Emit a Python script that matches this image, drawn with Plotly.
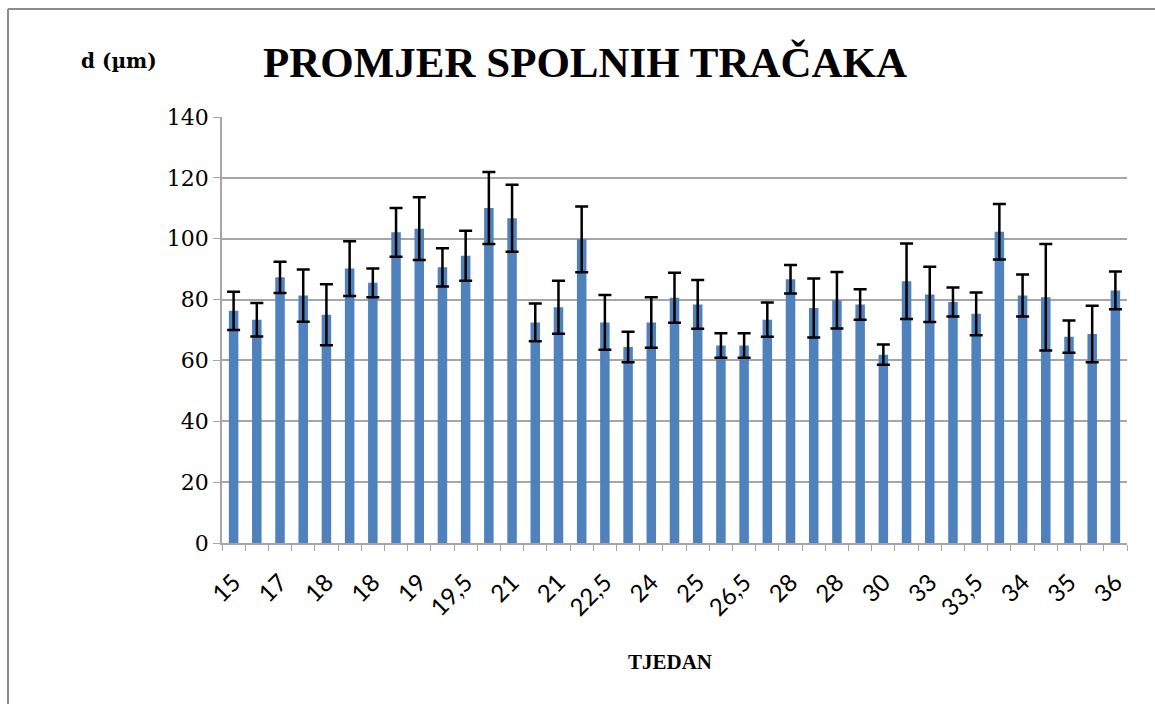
import plotly.graph_objects as go

# Mean diameter (µm) and standard deviation per sample, in sampling order
diameter = [76.3, 73.4, 87.3, 81.3, 75.0, 90.2, 85.5, 102.1, 103.3, 90.6,
            94.4, 110.1, 106.7, 72.5, 77.5, 99.8, 72.5, 64.4, 72.5, 80.6,
            78.4, 64.9, 64.9, 73.4, 86.7, 77.2, 79.8, 78.4, 61.9, 86.0,
            81.7, 79.2, 75.3, 102.3, 81.3, 80.8, 67.8, 68.7, 83.0]
std_dev = [6.3, 5.5, 5.1, 8.6, 10.0, 9.0, 4.7, 8.0, 10.3, 6.3,
           8.2, 11.8, 11.0, 6.2, 8.7, 10.8, 9.0, 5.0, 8.3, 8.2,
           8.0, 4.0, 4.0, 5.6, 4.7, 9.7, 9.3, 5.0, 3.3, 12.4,
           9.1, 4.8, 7.0, 9.1, 6.9, 17.5, 5.3, 9.3, 6.2]

# Week labels printed under every second sample
week_labels = ["15", "17", "18", "18", "19", "19,5", "21", "21", "22,5", "24",
               "25", "26,5", "28", "28", "30", "33", "33,5", "34", "35", "36"]

y_ticks = [0, 20, 40, 60, 80, 100, 120, 140]

n = len(diameter)
xs = list(range(n))
label_pos = xs[::2]

W, H = 1155, 704
L, R, T, B = 222, 28, 117, 161
pw, ph = W - L - R, H - T - B


def px_x(p):
    return (p - L) / pw


def px_y(p):
    return (H - B - p) / ph


fig = go.Figure(go.Bar(
    x=xs,
    y=diameter,
    width=0.41,
    marker=dict(color="#4f81bd", line=dict(width=0)),
    error_y=dict(type="data", array=std_dev, visible=True,
                 color="black", thickness=2.5, width=6.5),
    hoverinfo="y",
))

grid = "#a6a6a6"

fig.update_layout(
    width=W, height=H,
    margin=dict(l=L, r=R, t=T, b=B),
    paper_bgcolor="white",
    plot_bgcolor="white",
    showlegend=False,
    title=dict(text="<b>PROMJER SPOLNIH TRAČAKA</b>",
               font=dict(family="Liberation Serif", size=43, color="black"),
               x=585 / W, xanchor="center",
               y=1 - 62 / H, yanchor="middle"),
    xaxis=dict(
        range=[-0.5, n - 0.5],
        tickmode="array", tickvals=label_pos, ticktext=week_labels,
        tickangle=-45, ticks="",
        ticklabelstandoff=14,
        tickfont=dict(family="Lato", size=24, color="black"),
        showgrid=False, zeroline=False,
        showline=True, linecolor=grid, linewidth=1.5,
        minor=dict(tickmode="array",
                   tickvals=[i - 0.5 for i in range(n + 1)],
                   ticks="outside", ticklen=6, tickcolor=grid,
                   tickwidth=1.2, showgrid=False),
        fixedrange=True,
    ),
    yaxis=dict(
        range=[0, 140],
        tickmode="array", tickvals=y_ticks,
        ticks="outside", ticklen=7, tickcolor=grid, tickwidth=1.2,
        tickfont=dict(family="DejaVu Serif", size=22, color="black"),
        showgrid=True, gridcolor=grid, gridwidth=1.5,
        zeroline=False,
        showline=True, linecolor=grid, linewidth=1.5,
        fixedrange=True,
    ),
    annotations=[
        dict(text="<b>d (µm)</b>", xref="paper", yref="paper",
             x=px_x(119), y=px_y(61), xanchor="center", yanchor="middle",
             showarrow=False,
             font=dict(family="DejaVu Serif", size=20, color="black")),
        dict(text="<b>TJEDAN</b>", xref="paper", yref="paper",
             x=px_x(670), y=px_y(662), xanchor="center", yanchor="middle",
             showarrow=False,
             font=dict(family="Liberation Serif", size=21, color="black")),
    ],
    shapes=[
        dict(type="line", xref="paper", yref="paper",
             x0=px_x(8), x1=px_x(8), y0=px_y(720), y1=px_y(9),
             line=dict(color="#8c8c8c", width=2)),
        dict(type="line", xref="paper", yref="paper",
             x0=px_x(8), x1=px_x(1170), y0=px_y(9), y1=px_y(9),
             line=dict(color="#8c8c8c", width=2)),
    ],
)

fig.write_html("out.html")
